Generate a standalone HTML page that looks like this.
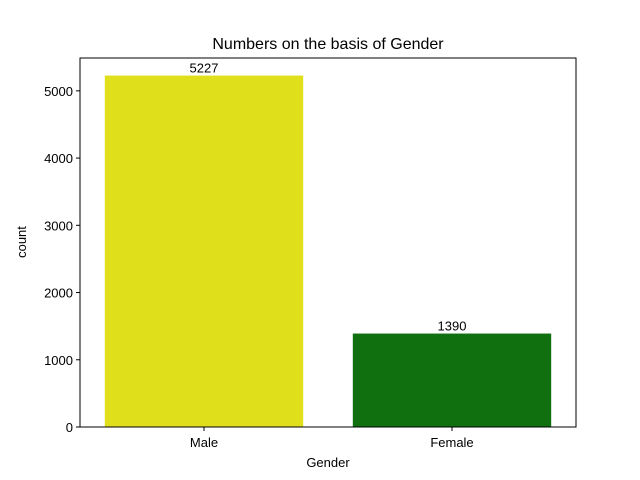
<!DOCTYPE html>
<html><head><meta charset="utf-8"><style>body{margin:0;background:#fff}svg{display:block;font-family:"Liberation Sans","DejaVu Sans",sans-serif}</style></head>
<body>
<svg id="chart" width="640" height="480">
<text x="328" y="49" text-anchor="middle" font-size="16">Numbers on the basis of Gender</text>
<g id="bars"></g>
<g id="yticks"></g>
<g id="xticks"></g>
<rect x="80" y="58" width="496" height="369" fill="none" stroke="#000" stroke-width="1"/>
<text x="328" y="467" text-anchor="middle" font-size="13">Gender</text>
<text x="26" y="242" text-anchor="middle" font-size="13" transform="rotate(-90 26 242)">count</text>
</svg>
<script>
const categories = ["Male", "Female"];
const counts = [5227, 1390];
const colors = ["#e0df1c", "#107010"];
const yTicks = [0, 1000, 2000, 3000, 4000, 5000];
const NS = "http://www.w3.org/2000/svg";
const L = 80, R = 576, T = 58, B = 427;
const yMax = Math.max(...counts) * 1.05;
function y(v){ return B - v / yMax * (B - T); }
function x(i){ return L + (i + 0.5) / categories.length * (R - L); }
const bw = 0.8 * (R - L) / categories.length;
function mk(tag, attrs, parent){ const e = document.createElementNS(NS, tag); for (const k in attrs) e.setAttribute(k, attrs[k]); parent.appendChild(e); return e; }
const bars = document.getElementById("bars");
categories.forEach((c, i) => {
  const r = mk("rect", {x: x(i) - bw/2, y: y(counts[i]), width: bw, height: B - y(counts[i]), fill: colors[i]}, bars);
  
  
  const t = mk("text", {x: x(i), y: y(counts[i]) - 3, "text-anchor": "middle", "font-size": 13}, bars);
  t.textContent = counts[i];
  
  
});
const yg = document.getElementById("yticks");
yTicks.forEach(v => {
  const l = mk("line", {x1: L - 4, x2: L, y1: y(v), y2: y(v), stroke: "#000"}, yg);
  
  
  const t = mk("text", {x: L - 7, y: y(v) + 5, "text-anchor": "end", "font-size": 13}, yg);
  t.textContent = v;
  
  
});
const xg = document.getElementById("xticks");
categories.forEach((c, i) => {
  const l = mk("line", {x1: x(i), x2: x(i), y1: B, y2: B + 4, stroke: "#000"}, xg);
  
  
  const t = mk("text", {x: x(i), y: B + 20, "text-anchor": "middle", "font-size": 13}, xg);
  t.textContent = c;
  
  
});
</script>
</body></html>
